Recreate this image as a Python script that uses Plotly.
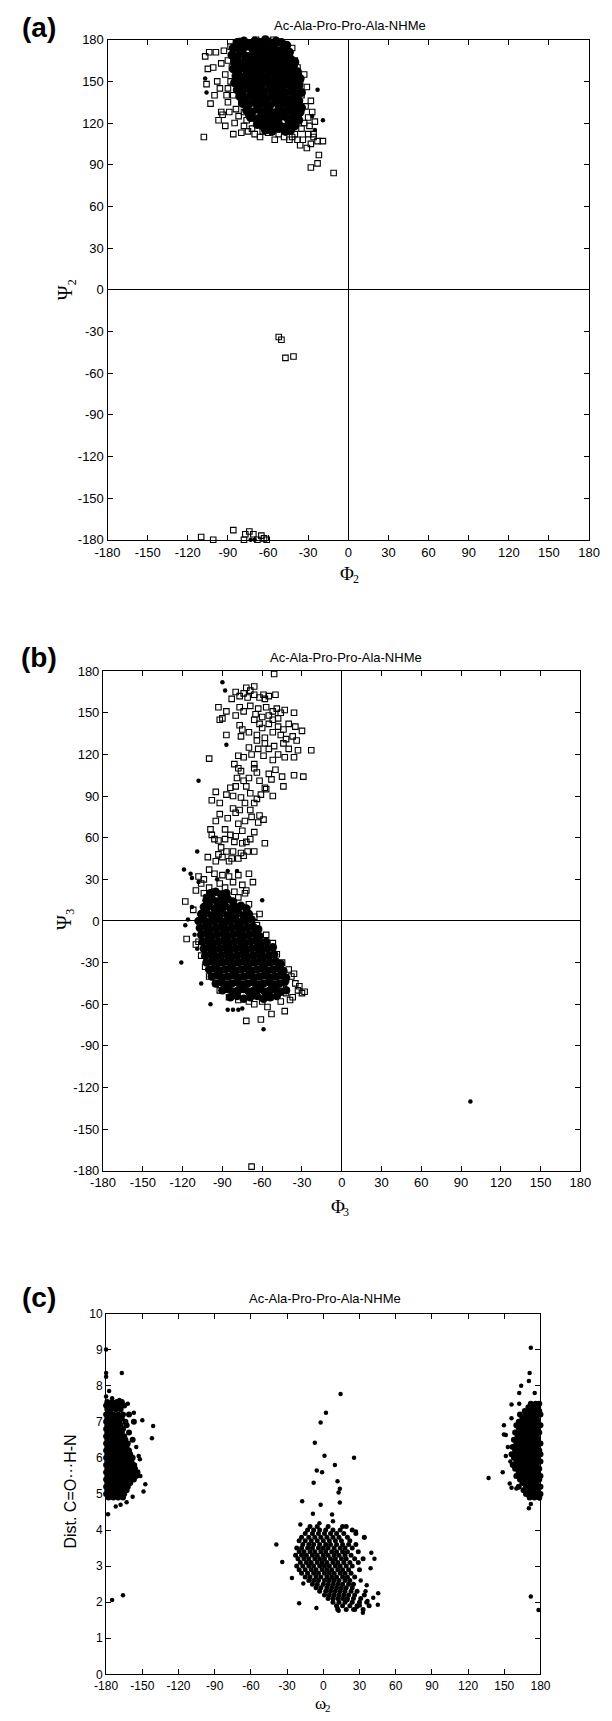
import plotly.graph_objects as go

# ------------------------------------------------------------------ data
angle_ticks = [-180, -150, -120, -90, -60, -30, 0, 30, 60, 90, 120, 150, 180]
dist_ticks = [0, 1, 2, 3, 4, 5, 6, 7, 8, 9, 10]
title_text = "Ac-Ala-Pro-Pro-Ala-NHMe"

# panel (a): (Phi2, Psi2) pairs
a_core = [
    -83, 178, -78, 179, -74, 177, -70, 179, -66, 178, -62, 180, -58, 177, -54, 179, -50, 178, -46, 176,
    -86, 174, -81, 173, -77, 175, -72, 174, -68, 172, -64, 175, -60, 173, -56, 174, -52, 172, -48, 173, -44, 171,
    -87, 169, -83, 168, -79, 170, -75, 168, -71, 169, -67, 167, -63, 170, -59, 168, -55, 169, -51, 167, -47, 168, -43, 166,
    -85, 164, -81, 163, -77, 165, -73, 163, -69, 164, -65, 162, -61, 165, -57, 163, -53, 164, -49, 162, -45, 163, -41, 161,
    -86, 159, -82, 158, -78, 160, -74, 158, -70, 159, -66, 157, -62, 160, -58, 158, -54, 159, -50, 157, -46, 158, -42, 156, -38, 157,
    -84, 154, -80, 153, -76, 155, -72, 153, -68, 154, -64, 152, -60, 155, -56, 153, -52, 154, -48, 152, -44, 153, -40, 151, -36, 152,
    -85, 149, -81, 148, -77, 150, -73, 148, -69, 149, -65, 147, -61, 150, -57, 148, -53, 149, -49, 147, -45, 148, -41, 146, -37, 147,
    -83, 144, -79, 143, -75, 145, -71, 143, -67, 144, -63, 142, -59, 145, -55, 143, -51, 144, -47, 142, -43, 143, -39, 141, -35, 142,
    -81, 139, -77, 138, -73, 140, -69, 138, -65, 139, -61, 137, -57, 140, -53, 138, -49, 139, -45, 137, -41, 138, -37, 136,
    -79, 134, -75, 133, -71, 135, -67, 133, -63, 134, -59, 132, -55, 135, -51, 133, -47, 134, -43, 132, -39, 133, -35, 131,
    -76, 129, -72, 128, -68, 130, -64, 128, -60, 129, -56, 127, -52, 130, -48, 128, -44, 129, -40, 127, -36, 128,
    -73, 124, -69, 123, -65, 125, -61, 123, -57, 124, -53, 122, -49, 125, -45, 123, -41, 124, -37, 122,
    -68, 119, -64, 118, -60, 120, -56, 118, -52, 119, -48, 117, -44, 120, -40, 118,
    -62, 115, -57, 114, -52, 116, -47, 114, -43, 115,
    -80, 176, -68, 176, -56, 176, -84, 166, -74, 166, -62, 167, -50, 165, -40, 164, -83, 156, -71, 156,
    -59, 157, -47, 155, -80, 146, -66, 146, -54, 146, -42, 145, -77, 136, -64, 136, -52, 136, -40, 135,
    -74, 126, -62, 126, -50, 126, -38, 125, -66, 121, -54, 121, -58, 116,
]
a_dots = [-107, 152, -106, 142, -23, 144, -19, 122, -27, 125, -25, 115, -73, -180, -70, -180]
a_squares = [
    -108, 110, -107, 168, -105, 159, -104, 171, -99, 171, -106, 148, -101, 160, -98, 150, -100, 140, -96, 145,
    -103, 134, -95, 128, -97, 122, -92, 118, -94, 126, -90, 135, -92, 155, -95, 163, -90, 165, -93, 172,
    -88, 175, -84, 178, -80, 179, -74, 178, -86, 112, -80, 113, -78, 118, -75, 114, -70, 112, -66, 110,
    -60, 113, -55, 108, -52, 112, -48, 110, -45, 114, -42, 110, -40, 112, -38, 108, -35, 116, -34, 108,
    -30, 112, -28, 105, -26, 112, -23, 107, -19, 107, -28, 88, -23, 91, -22, 97, -11, 84, -33, 120,
    -30, 124, -27, 128, -32, 132, -28, 136, -35, 140, -31, 146, -36, 150, -33, 155, -38, 160, -40, 165,
    -45, 170, -48, 175, -52, 178, -56, 180, -60, 179, -65, 178, -42, 174, -37, 153, -29, 118, -25, 121,
    -88, 150, -86, 140, -84, 130, -90, 145, -87, 160, -82, 125, -80, 135, -85, 120, -78, 128, -76, 122,
    -72, 116, -64, 114, -44, 108, -31, 102, -36, 104, -26, 110, -89, 128, -91, 140, -85, 170, -79, 172,
    -69, 180, -62, 176,
    -52, -34, -50, -36, -47, -49, -41, -48,
    -110, -178, -101, -180, -86, -173, -74, -174, -77, -176, -71, -176, -65, -177, -68, -180, -61, -180,
    -78, -180, -63, -179,
]

# panel (b): (Phi3, Psi3) pairs
b_core = [
    -99, 20, -95, 21, -91, 19, -87, 20,
    -102, 15, -98, 16, -94, 14, -90, 15, -86, 16, -82, 14,
    -104, 10, -100, 11, -96, 9, -92, 10, -88, 11, -84, 9, -80, 10, -76, 11, -72, 9,
    -106, 5, -102, 6, -98, 4, -94, 5, -90, 6, -86, 4, -82, 5, -78, 6, -74, 4, -70, 5,
    -108, 0, -104, 1, -100, -1, -96, 0, -92, 1, -88, -1, -84, 0, -80, 1, -76, -1, -72, 0, -68, 1,
    -107, -5, -103, -4, -99, -6, -95, -5, -91, -4, -87, -6, -83, -5, -79, -4, -75, -6, -71, -5, -67, -4, -63, -6,
    -106, -10, -102, -9, -98, -11, -94, -10, -90, -9, -86, -11, -82, -10, -78, -9, -74, -11, -70, -10, -66, -9, -62, -11,
    -105, -15, -101, -14, -97, -16, -93, -15, -89, -14, -85, -16, -81, -15, -77, -14, -73, -16, -69, -15, -65, -14, -61, -16, -57, -15,
    -104, -20, -100, -19, -96, -21, -92, -20, -88, -19, -84, -21, -80, -20, -76, -19, -72, -21, -68, -20, -64, -19, -60, -21, -56, -20, -52, -19,
    -103, -25, -99, -24, -95, -26, -91, -25, -87, -24, -83, -26, -79, -25, -75, -24, -71, -26, -67, -25, -63, -24, -59, -26, -55, -25, -51, -24,
    -102, -30, -98, -29, -94, -31, -90, -30, -86, -29, -82, -31, -78, -30, -74, -29, -70, -31, -66, -30, -62, -29, -58, -31, -54, -30, -50, -29, -46, -31,
    -100, -35, -96, -34, -92, -36, -88, -35, -84, -34, -80, -36, -76, -35, -72, -34, -68, -36, -64, -35, -60, -34, -56, -36, -52, -35, -48, -34, -44, -36,
    -98, -40, -94, -39, -90, -41, -86, -40, -82, -39, -78, -41, -74, -40, -70, -39, -66, -41, -62, -40, -58, -39, -54, -41, -50, -40, -46, -39, -42, -41,
    -95, -45, -91, -44, -87, -46, -83, -45, -79, -44, -75, -46, -71, -45, -67, -44, -63, -46, -59, -45, -55, -44, -51, -46, -47, -45, -43, -44,
    -90, -50, -86, -49, -82, -51, -78, -50, -74, -49, -70, -51, -66, -50, -62, -49, -58, -51, -54, -50, -50, -49, -46, -51, -42, -50,
    -84, -55, -79, -54, -74, -56, -69, -55, -64, -54, -59, -56, -54, -55, -49, -54,
]
b_dots = [
    -90, 172, -88, 166, -108, 101, -87, 127, -109, 50, -119, 37, -114, 34, -113, 31, -108, 28, -94, 30,
    -86, 36, -79, 36, -60, 15, -113, 10, -103, 18, -121, -30, -116, 1, -118, -3, -99, -60, -86, -64,
    -82, -64, -78, -64, -75, -63, -59, -78, 97, -130, -97, 14, -89, 12, -111, -10, -109, -20, -106, -45,
]
b_squares = [
    -51, 178, -80, 165, -77, 162, -74, 164, -71, 161, -69, 166, -66, 163, -62, 161, -59, 163, -55, 162,
    -50, 163, -72, 168, -66, 169, -58, 160, -83, 160,
    -93, 154, -87, 151, -77, 154, -74, 151, -69, 155, -63, 153, -57, 154, -52, 151, -49, 153, -46, 150,
    -43, 152, -36, 150, -65, 149, -60, 147, -55, 148, -48, 146, -90, 146, -80, 148,
    -92, 145, -77, 141, -75, 138, -66, 145, -62, 142, -55, 142, -52, 145, -48, 140, -44, 138, -40, 142,
    -35, 140, -30, 137, -46, 134, -52, 136, -58, 132, -64, 134, -70, 136, -76, 133, -42, 131, -37, 133,
    -87, 134, -60, 139,
    -64, 130, -58, 128, -51, 126, -44, 128, -34, 130, -40, 124, -33, 123, -23, 123, -55, 124, -63, 124,
    -68, 120, -74, 118, -78, 119, -59, 119, -48, 120, -43, 118, -36, 118, -52, 116, -100, 117, -70, 125,
    -81, 113, -78, 110, -76, 108, -66, 110, -64, 107, -55, 106, -50, 109, -45, 104, -53, 102, -62, 101,
    -70, 103, -79, 103, -74, 101, -29, 104, -36, 105, -44, 97, -58, 96, -66, 113,
    -84, 96, -80, 97, -72, 97, -95, 93, -98, 87, -87, 91, -82, 90, -76, 89, -69, 92, -61, 91,
    -57, 95, -64, 88, -52, 90, -92, 85, -73, 85, -66, 85,
    -82, 81, -80, 78, -77, 80, -69, 80, -68, 75, -62, 76, -59, 73, -63, 71, -92, 77, -86, 74,
    -73, 72, -78, 70, -88, 66, -99, 66, -95, 72, -75, 65, -66, 64,
    -98, 62, -96, 59, -93, 58, -88, 59, -84, 62, -80, 61, -81, 57, -75, 56, -72, 57, -69, 59,
    -91, 53, -87, 50, -82, 50, -76, 49, -71, 50, -66, 50, -90, 46, -85, 43, -78, 45, -74, 47,
    -58, 56, -101, 46, -93, 48, -95, 43, -83, 45,
    -100, 37, -96, 34, -90, 33, -85, 32, -78, 33, -70, 34, -104, 30, -92, 27, -88, 24, -82, 28,
    -75, 26, -67, 28, -100, 24, -96, 21, -106, 27, -110, 22, -81, 21, -72, 22,
    -118, 14, -117, -13, -110, -17, -108, 32, -104, 20, -66, 3, -64, -3, -57, -10, -52, -16, -49, -24,
    -45, -30, -40, -35, -38, -40, -35, -45, -30, -52, -33, -50, -37, -55, -42, -52, -46, -48, -50, -44,
    -54, -55, -60, -58, -66, -60, -70, -58, -78, -57, -85, -55, -92, -50, -95, -45, -100, -40, -103, -33,
    -106, -25, -108, -15, -104, -8, -57, -48, -42, -42, -36, -38, -48, -38, -32, -47, -28, -51, -56, -62,
    -46, -58, -39, -57,
    -72, -72, -61, -71, -53, -67, -43, -65, -68, -177, -75, 8, -70, 12, -78, 17, -73, 20, -62, 5, -112, 8,
]

# panel (c): (omega2, distance) pairs
c_left = [
    -179, 7.55, -175, 7.55, -171, 7.55, -167, 7.55,
    -180, 7.45, -177, 7.45, -173, 7.45, -169, 7.45, -165, 7.45,
    -179, 7.35, -176, 7.35, -172, 7.35, -168, 7.35,
    -180, 7.2, -177, 7.2, -174, 7.2, -170, 7.2, -166, 7.2, -161, 7.2,
    -179, 7.1, -175, 7.1, -171, 7.1, -167, 7.1,
    -180, 7.0, -177, 7.0, -173, 7.0, -169, 7.0, -164, 7.0, -157, 7.0,
    -179, 6.9, -176, 6.9, -172, 6.9, -168, 6.9, -163, 6.9,
    -180, 6.8, -177, 6.8, -174, 6.8, -170, 6.8, -166, 6.8,
    -179, 6.7, -175, 6.7, -171, 6.7, -167, 6.7, -161, 6.7,
    -180, 6.6, -177, 6.6, -173, 6.6, -169, 6.6, -165, 6.6,
    -179, 6.5, -176, 6.5, -172, 6.5, -168, 6.5, -164, 6.5, -158, 6.5,
    -180, 6.4, -177, 6.4, -174, 6.4, -170, 6.4, -166, 6.4, -162, 6.4,
    -179, 6.3, -175, 6.3, -171, 6.3, -167, 6.3, -163, 6.3,
    -180, 6.2, -177, 6.2, -173, 6.2, -169, 6.2, -165, 6.2, -161, 6.2,
    -179, 6.1, -176, 6.1, -172, 6.1, -168, 6.1, -164, 6.1, -160, 6.1,
    -180, 6.0, -177, 6.0, -174, 6.0, -170, 6.0, -166, 6.0, -162, 6.0, -158, 6.0,
    -179, 5.9, -175, 5.9, -171, 5.9, -167, 5.9, -163, 5.9, -159, 5.9,
    -180, 5.8, -177, 5.8, -173, 5.8, -169, 5.8, -165, 5.8, -161, 5.8, -157, 5.8,
    -179, 5.7, -176, 5.7, -172, 5.7, -168, 5.7, -164, 5.7, -160, 5.7, -156, 5.7,
    -180, 5.6, -177, 5.6, -174, 5.6, -170, 5.6, -166, 5.6, -162, 5.6, -158, 5.6, -154, 5.6,
    -179, 5.5, -175, 5.5, -171, 5.5, -167, 5.5, -163, 5.5, -159, 5.5, -155, 5.5,
    -180, 5.4, -177, 5.4, -173, 5.4, -169, 5.4, -165, 5.4, -161, 5.4, -157, 5.4,
    -179, 5.3, -176, 5.3, -172, 5.3, -168, 5.3, -164, 5.3, -160, 5.3,
    -180, 5.2, -177, 5.2, -174, 5.2, -170, 5.2, -166, 5.2, -162, 5.2,
    -179, 5.1, -175, 5.1, -171, 5.1, -167, 5.1, -163, 5.1,
    -180, 5.0, -177, 5.0, -173, 5.0, -169, 5.0, -165, 5.0,
    -178, 4.9, -174, 4.9, -170, 4.9, -166, 4.9,
]
c_right = [
    172, 7.5, 176, 7.5, 179, 7.5,
    170, 7.4, 174, 7.4, 178, 7.4,
    167, 7.3, 171, 7.3, 175, 7.3, 179, 7.3,
    163, 7.2, 168, 7.2, 172, 7.2, 176, 7.2, 180, 7.2,
    165, 7.1, 169, 7.1, 173, 7.1, 177, 7.1,
    162, 7.0, 166, 7.0, 170, 7.0, 174, 7.0, 178, 7.0,
    160, 6.9, 164, 6.9, 168, 6.9, 172, 6.9, 176, 6.9, 180, 6.9,
    162, 6.8, 166, 6.8, 170, 6.8, 174, 6.8, 178, 6.8,
    159, 6.7, 163, 6.7, 167, 6.7, 171, 6.7, 175, 6.7, 179, 6.7,
    161, 6.6, 165, 6.6, 169, 6.6, 173, 6.6, 177, 6.6,
    158, 6.5, 162, 6.5, 166, 6.5, 170, 6.5, 174, 6.5, 178, 6.5,
    160, 6.4, 164, 6.4, 168, 6.4, 172, 6.4, 176, 6.4, 180, 6.4,
    157, 6.3, 161, 6.3, 165, 6.3, 169, 6.3, 173, 6.3, 177, 6.3,
    159, 6.2, 163, 6.2, 167, 6.2, 171, 6.2, 175, 6.2, 179, 6.2,
    156, 6.1, 160, 6.1, 164, 6.1, 168, 6.1, 172, 6.1, 176, 6.1, 180, 6.1,
    158, 6.0, 162, 6.0, 166, 6.0, 170, 6.0, 174, 6.0, 178, 6.0,
    160, 5.9, 164, 5.9, 168, 5.9, 172, 5.9, 176, 5.9, 180, 5.9,
    157, 5.8, 161, 5.8, 165, 5.8, 169, 5.8, 173, 5.8, 177, 5.8,
    159, 5.7, 163, 5.7, 167, 5.7, 171, 5.7, 175, 5.7, 179, 5.7,
    162, 5.6, 166, 5.6, 170, 5.6, 174, 5.6, 178, 5.6,
    160, 5.5, 164, 5.5, 168, 5.5, 172, 5.5, 176, 5.5, 180, 5.5,
    163, 5.4, 167, 5.4, 171, 5.4, 175, 5.4, 179, 5.4,
    165, 5.3, 169, 5.3, 173, 5.3, 177, 5.3,
    162, 5.2, 168, 5.2, 172, 5.2, 176, 5.2, 180, 5.2,
    166, 5.1, 170, 5.1, 174, 5.1, 178, 5.1,
    168, 5.0, 172, 5.0, 176, 5.0, 180, 5.0,
    171, 4.9, 175, 4.9, 179, 4.9,
]
c_mid = [
    -11, 4.1, -5, 4.1, 4, 4.1, 16, 4.1, 19, 4.1,
    -13, 4.0, -8, 4.0, -3, 4.0, 2, 4.0, 8, 4.0, 14, 4.0, 24, 4.0,
    -15, 3.9, -9, 3.9, -4, 3.9, 1, 3.9, 6, 3.9, 11, 3.9, 17, 3.9, 27, 3.9,
    -18, 3.8, -12, 3.8, -7, 3.8, -2, 3.8, 3, 3.8, 8, 3.8, 13, 3.8, 20, 3.8, 34, 3.8,
    -20, 3.7, -15, 3.7, -10, 3.7, -5, 3.7, 0, 3.7, 5, 3.7, 10, 3.7, 15, 3.7, 22, 3.7,
    -17, 3.6, -12, 3.6, -8, 3.6, -3, 3.6, 2, 3.6, 6, 3.6, 11, 3.6, 16, 3.6, 21, 3.6, 27, 3.6,
    -22, 3.5, -18, 3.5, -13, 3.5, -9, 3.5, -4, 3.5, 0, 3.5, 4, 3.5, 9, 3.5, 14, 3.5, 18, 3.5, 24, 3.5,
    -20, 3.4, -16, 3.4, -11, 3.4, -7, 3.4, -2, 3.4, 2, 3.4, 7, 3.4, 11, 3.4, 16, 3.4, 20, 3.4, 29, 3.4,
    -23, 3.3, -18, 3.3, -14, 3.3, -9, 3.3, -5, 3.3, 0, 3.3, 4, 3.3, 9, 3.3, 13, 3.3, 18, 3.3, 23, 3.3,
    -21, 3.2, -16, 3.2, -12, 3.2, -7, 3.2, -3, 3.2, 1, 3.2, 6, 3.2, 10, 3.2, 15, 3.2, 19, 3.2, 26, 3.2, 33, 3.2,
    -19, 3.1, -14, 3.1, -10, 3.1, -5, 3.1, -1, 3.1, 3, 3.1, 8, 3.1, 12, 3.1, 17, 3.1, 22, 3.1, 29, 3.1,
    -22, 3.0, -17, 3.0, -12, 3.0, -8, 3.0, -3, 3.0, 1, 3.0, 5, 3.0, 10, 3.0, 14, 3.0, 19, 3.0, 24, 3.0,
    -20, 2.9, -15, 2.9, -10, 2.9, -6, 2.9, -1, 2.9, 3, 2.9, 7, 2.9, 12, 2.9, 16, 2.9, 21, 2.9, 30, 2.9,
    -18, 2.8, -13, 2.8, -8, 2.8, -4, 2.8, 1, 2.8, 5, 2.8, 9, 2.8, 14, 2.8, 18, 2.8, 23, 2.8,
    -15, 2.7, -11, 2.7, -6, 2.7, -2, 2.7, 3, 2.7, 7, 2.7, 11, 2.7, 16, 2.7, 20, 2.7, 26, 2.7,
    -12, 2.6, -8, 2.6, -4, 2.6, 1, 2.6, 5, 2.6, 9, 2.6, 13, 2.6, 18, 2.6, 22, 2.6,
    -9, 2.5, -5, 2.5, 0, 2.5, 4, 2.5, 8, 2.5, 12, 2.5, 16, 2.5, 21, 2.5, 25, 2.5,
    -6, 2.4, -2, 2.4, 3, 2.4, 7, 2.4, 11, 2.4, 15, 2.4, 19, 2.4, 24, 2.4,
    -3, 2.3, 2, 2.3, 6, 2.3, 10, 2.3, 14, 2.3, 18, 2.3, 23, 2.3, 28, 2.3,
    1, 2.2, 5, 2.2, 9, 2.2, 13, 2.2, 17, 2.2, 21, 2.2, 26, 2.2, 34, 2.2,
    4, 2.1, 8, 2.1, 12, 2.1, 16, 2.1, 20, 2.1, 25, 2.1, 31, 2.1,
    8, 2.0, 13, 2.0, 18, 2.0, 24, 2.0, 30, 2.0, 36, 2.0,
    11, 1.9, 16, 1.9, 22, 1.9, 28, 1.9, 38, 1.9,
    12, 1.8, 19, 1.8, 26, 1.8, 33, 1.8,
]
c_scatter = [
    -180, 9.0, -167, 8.35, -180, 8.35, -180, 8.25, -177.5, 7.85, -180, 7.7, -141, 6.88, -142, 6.54,
    -150, 7.04, -147.5, 5.27, -149, 5.07, -152, 5.96, -151.6, 5.5, -178.4, 4.44, -172, 4.65, -168, 4.7,
    -163, 4.77, -158, 4.92, -175, 2.06, -166, 2.19, -155, 6.3, -153, 6.05, -156, 5.8, -157, 7.25,
    -162, 7.5, -169, 7.6, -175, 7.65,
    172, 9.05, 171, 8.35, 170.4, 8.13, 164, 8.0, 162.4, 7.8, 175.2, 7.8, 156, 7.48, 162.4, 7.5,
    149.7, 6.9, 151.3, 6.63, 137, 5.44, 149.7, 6.65, 151.3, 6.05, 148.7, 5.6, 154.5, 5.29, 156, 5.17,
    160, 5.15, 170.4, 4.6, 172, 4.72, 179.3, 4.87, 172, 2.16, 178.4, 1.78, 155, 5.9, 153, 6.3, 156, 7.1,
    14.3, 7.77, 2.2, 7.25, -2.2, 6.98, -7, 6.42, 1, 6.06, 25.5, 6.0, 9.6, 5.8, -5.4, 5.65, -1, 5.6,
    -8, 5.31, 11.8, 5.35, 13.7, 5.14, 12.7, 5.04, -17.5, 4.8, -2.2, 4.7, 13.7, 4.76, -8.6, 4.45,
    7.3, 4.43, -19, 4.15, -3.2, 4.19, 8, 4.24, -38.9, 3.6, -34, 3.11, -26, 2.67, -16.6, 2.52,
    -20, 1.97, -5.7, 1.84, 39.8, 3.37, 42.4, 3.2, 39.2, 2.94, 45.5, 2.25, 45.2, 1.93, 41.4, 2.12,
    36, 2.47, 32.8, 1.71, 28, 1.87, 20, 2.06, 11.8, 1.84, 12.7, 1.76, 24.8, 1.8, 30.3, 1.91,
    36.6, 2.03, 34, 3.79, 27, 3.96, 31, 2.6, 35, 2.3,
]

# ------------------------------------------------------------------ layout constants (pixels)
W, H = 612, 1721
PANEL_A = dict(left=98.4, right=599.6, top=33, bottom=537.5)
PANEL_B = dict(left=93.75, right=590.6, top=670, bottom=1174)
PANEL_C = dict(left=96.9, right=549, top=1318, bottom=1682)


def px(x):
    return x / W


def py(y):
    return 1 - y / H


def xy(pairs):
    return pairs[0::2], pairs[1::2]


fig = go.Figure()


def add(pairs, ax, symbol, size, lw=1.0):
    x, y = xy(pairs)
    marker = dict(symbol=symbol, size=size, color="black")
    if "open" in symbol:
        marker["line"] = dict(width=lw, color="black")
    else:
        marker["line"] = dict(width=0)
    fig.add_trace(go.Scatter(x=x, y=y, mode="markers", marker=marker,
                             xaxis="x" + ax, yaxis="y" + ax, showlegend=False,
                             cliponaxis=False, hoverinfo="skip"))


# panel a
add(a_core, "", "circle", 9)
add(a_dots, "", "circle", 4.5)
add(a_squares, "", "square-open", 5.5, 1.1)
# panel b
add(b_core, "2", "circle", 8.5)
add(b_dots, "2", "circle", 4.5)
add(b_squares, "2", "square-open", 5.5, 1.1)
# panel c
add(c_left, "3", "circle", 6)
add(c_right, "3", "circle", 6)
add(c_mid, "3", "circle", 5)
add(c_scatter, "3", "circle", 4.5)

tickfont = dict(family="Liberation Sans, Arial, sans-serif", size=13, color="black")
base = dict(showgrid=False, showline=True, linecolor="black", linewidth=1.2,
            mirror="ticks", ticks="inside", ticklen=5, tickwidth=1, tickcolor="black",
            tickfont=tickfont)


def xaxis(p, anchor, zero, font_size=13):
    d = dict(base)
    d.update(domain=[px(p["left"]), px(p["right"])], anchor=anchor, range=[-180, 180],
             tickvals=angle_ticks, ticktext=[str(v) for v in angle_ticks],
             zeroline=zero, zerolinecolor="black", zerolinewidth=1.2,
             tickfont=dict(tickfont, size=font_size))
    return d


def yaxis(p, anchor, rng, ticks, zero, font_size=13):
    d = dict(base)
    d.update(domain=[py(p["bottom"]), py(p["top"])], anchor=anchor, range=rng,
             tickvals=ticks, ticktext=[str(v) for v in ticks],
             zeroline=zero, zerolinecolor="black", zerolinewidth=1.2,
             tickfont=dict(tickfont, size=font_size))
    return d


fig.update_layout(
    width=W, height=H, margin=dict(l=0, r=0, t=0, b=0),
    paper_bgcolor="white", plot_bgcolor="white",
    xaxis=xaxis(PANEL_A, "y", True),
    yaxis=yaxis(PANEL_A, "x", [-180, 180], angle_ticks, True),
    xaxis2=xaxis(PANEL_B, "y2", True),
    yaxis2=yaxis(PANEL_B, "x2", [-180, 180], angle_ticks, True),
    xaxis3=xaxis(PANEL_C, "y3", False, 12),
    yaxis3=yaxis(PANEL_C, "x3", [0, 10], dist_ticks, False, 12),
)

sans = "Liberation Sans, Arial, sans-serif"
serif = "Liberation Serif, Times New Roman, serif"


def note(text, x, y, size, family, angle=0, weight="normal"):
    fig.add_annotation(text=text, x=px(x), y=py(y), xref="paper", yref="paper",
                       xanchor="center", yanchor="middle", showarrow=False,
                       textangle=angle,
                       font=dict(family=family, size=size, color="black", weight=weight))


# panel letters
note("(a)", 27, 21, 28, sans, weight="bold")
note("(b)", 27, 656, 28, sans, weight="bold")
note("(c)", 27, 1302, 28, sans, weight="bold")
# titles
note(title_text, 351, 19, 13, sans)
note(title_text, 347, 656, 13, sans)
note(title_text, 325, 1303, 13, sans)
# axis labels: symbol plus a smaller subscript digit
note("\u03a6", 348, 571, 19, serif)
note("2", 357, 577, 12, serif)
note("\u03a8", 55, 288, 20, serif, -90)
note("2", 61, 278, 12, serif, -90)
note("\u03a6", 338, 1210, 19, serif)
note("3", 347, 1216, 12, serif)
note("\u03a8", 53, 923, 20, serif, -90)
note("3", 59, 913, 12, serif, -90)
note("\u03c9", 320, 1711, 17, serif)
note("2", 328, 1716, 11, serif)
note("Dist. C=O\u00b7\u00b7\u00b7H-N", 60, 1498, 16, sans, -90)

fig.write_html("out.html", config={"displayModeBar": False},
               post_script="document.body.style.margin='0';document.body.style.overflow='hidden';")
